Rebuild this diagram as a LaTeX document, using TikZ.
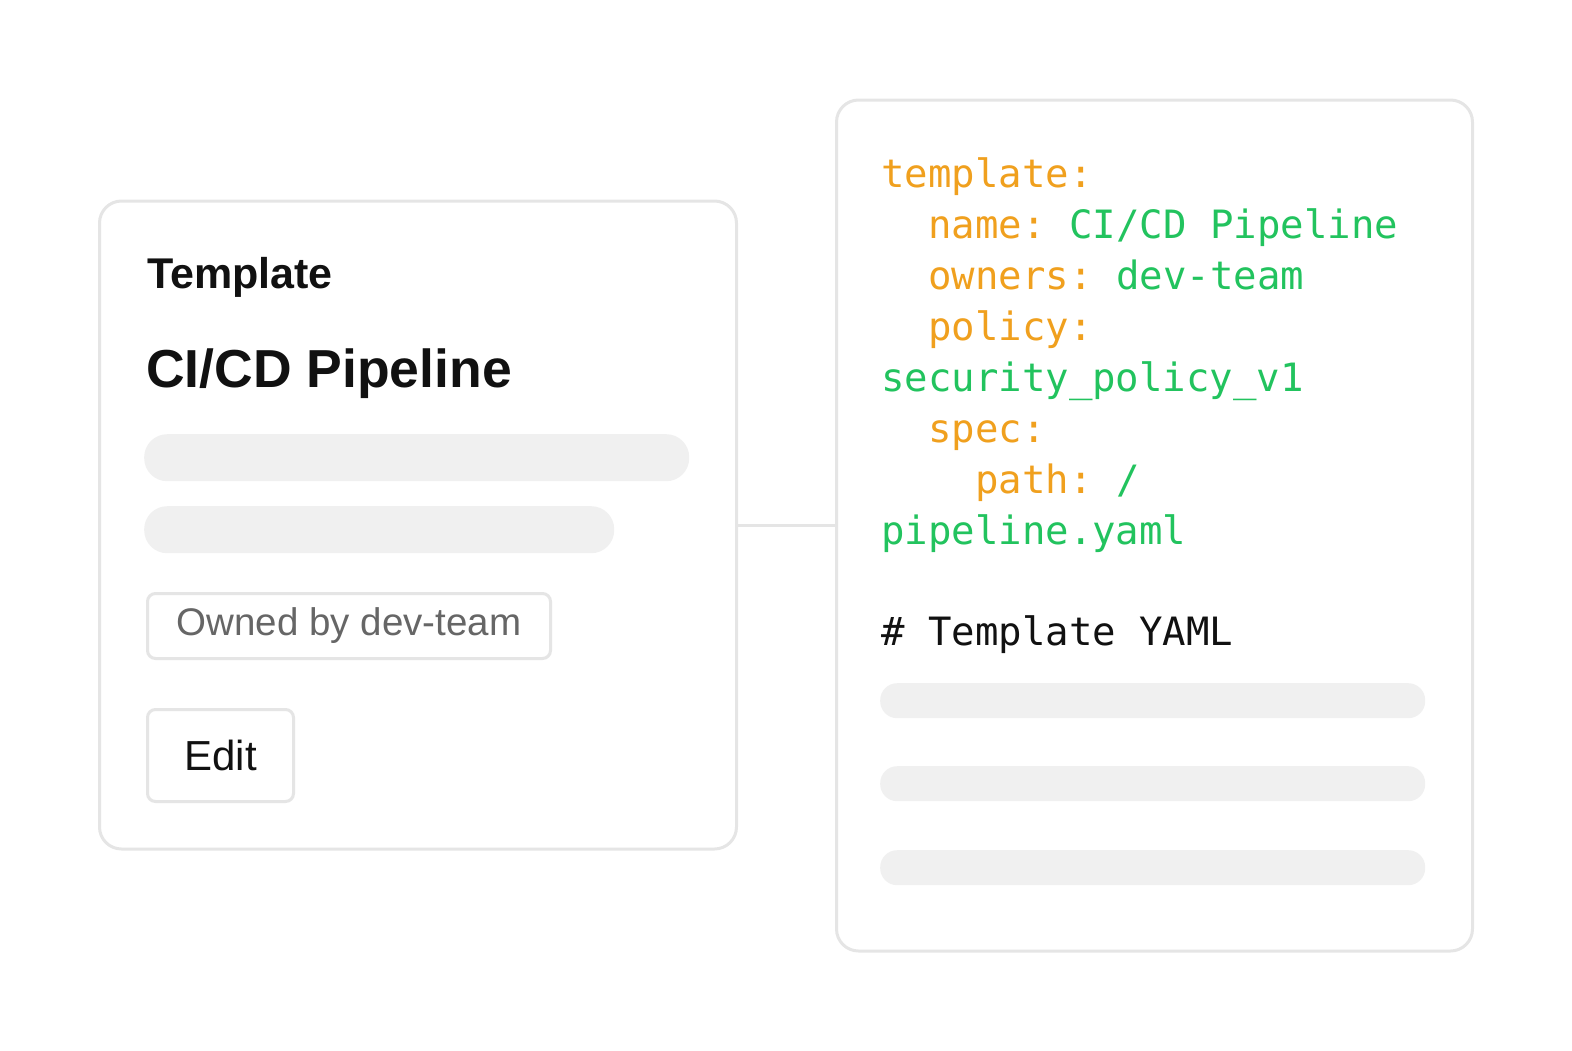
\documentclass[tikz,border=0pt]{standalone}
\usepackage{fontspec}
\setmainfont{Liberation Sans}
\newfontfamily\codefont{DejaVu Sans Mono}
\usetikzlibrary{positioning}
\definecolor{cardline}{HTML}{E5E5E5}
\definecolor{barfill}{HTML}{F0F0F0}
\definecolor{keycol}{HTML}{F0A01E}
\definecolor{valcol}{HTML}{22C35E}
\definecolor{inktext}{HTML}{111111}
\definecolor{softtext}{HTML}{666666}

\begin{document}
\begin{tikzpicture}[x=1pt, y=-1pt,
    card/.style    = {draw=cardline, line width=3pt, fill=white,
        rounded corners=22pt, inner sep=0pt},
    bar/.style     = {fill=barfill, rounded corners=17pt, inner sep=0pt},
    chip/.style    = {draw=cardline, line width=3pt, rounded corners=8pt,
        inner sep=0pt},
    code/.style    = {anchor=base west, inner sep=0pt,
        font=\codefont\fontsize{39}{51}\selectfont},
    key/.style     = {code, text=keycol},
    val/.style     = {code, text=valcol}]
  \useasboundingbox (0,0) rectangle (1572,1050);

  % left card
  \node[card, anchor=north west, minimum width=637pt, minimum height=648pt]
      (card) at (98,199.5) {};
  \node[anchor=base west, inner sep=0pt, text=inktext,
      font=\bfseries\fontsize{43}{50}\selectfont] (kind) at (147,288) {Template};
  \node[anchor=base west, inner sep=0pt, text=inktext,
      font=\bfseries\fontsize{53.5}{60}\selectfont] (title) at (146,387) {CI/CD Pipeline};
  \node[bar, anchor=north west, minimum width=545pt, minimum height=47pt,
      rounded corners=23pt] (bar1) at (144,434) {};
  \node[bar, anchor=north west, minimum width=470pt, minimum height=47pt,
      rounded corners=23pt] (bar2) at (144,506) {};
  \node[chip, anchor=north west, minimum width=403pt, minimum height=65pt,
      text=softtext, font=\fontsize{38.5}{44}\selectfont]
      (owner) at (146,592) {\raisebox{-3pt}{Owned by dev-team}};
  \node[chip, anchor=north west, minimum width=146pt, minimum height=92pt,
      text=inktext, font=\fontsize{42}{48}\selectfont]
      (edit) at (146,708) {Edit};

  % right card
  \node[card, anchor=north west, minimum width=636pt, minimum height=851pt]
      (yaml) at (835,98.5) {};
  \node[key] (l1) at (881,187) {template:};
  \node[key] (l2) at (928,238) {name:};
  \node[val, right=23.4pt of l2.base east, anchor=base west] (l2v) {CI/CD Pipeline};
  \node[key] (l3) at (928,289) {owners:};
  \node[val, right=23.4pt of l3.base east, anchor=base west] (l3v) {dev-team};
  \node[key] (l4) at (928,340) {policy:};
  \node[val] (l5) at (881,391) {security\_policy\_v1};
  \node[key] (l6) at (928,442) {spec:};
  \node[key] (l7) at (975,493) {path:};
  \node[val, right=23.4pt of l7.base east, anchor=base west] (l7v) {/};
  \node[val] (l8) at (881,544) {pipeline.yaml};
  \node[code, text=inktext] (l9) at (881,645) {\#~Template~YAML};
  \node[bar, anchor=north west, minimum width=545pt, minimum height=35pt] (bar3) at (880,683) {};
  \node[bar, anchor=north west, minimum width=545pt, minimum height=35pt] (bar4) at (880,766) {};
  \node[bar, anchor=north west, minimum width=545pt, minimum height=35pt] (bar5) at (880,850) {};

  % link between the cards
  \draw[cardline, line width=3pt] (card.east) -- (card.east -| yaml.west);
\end{tikzpicture}
\end{document}
